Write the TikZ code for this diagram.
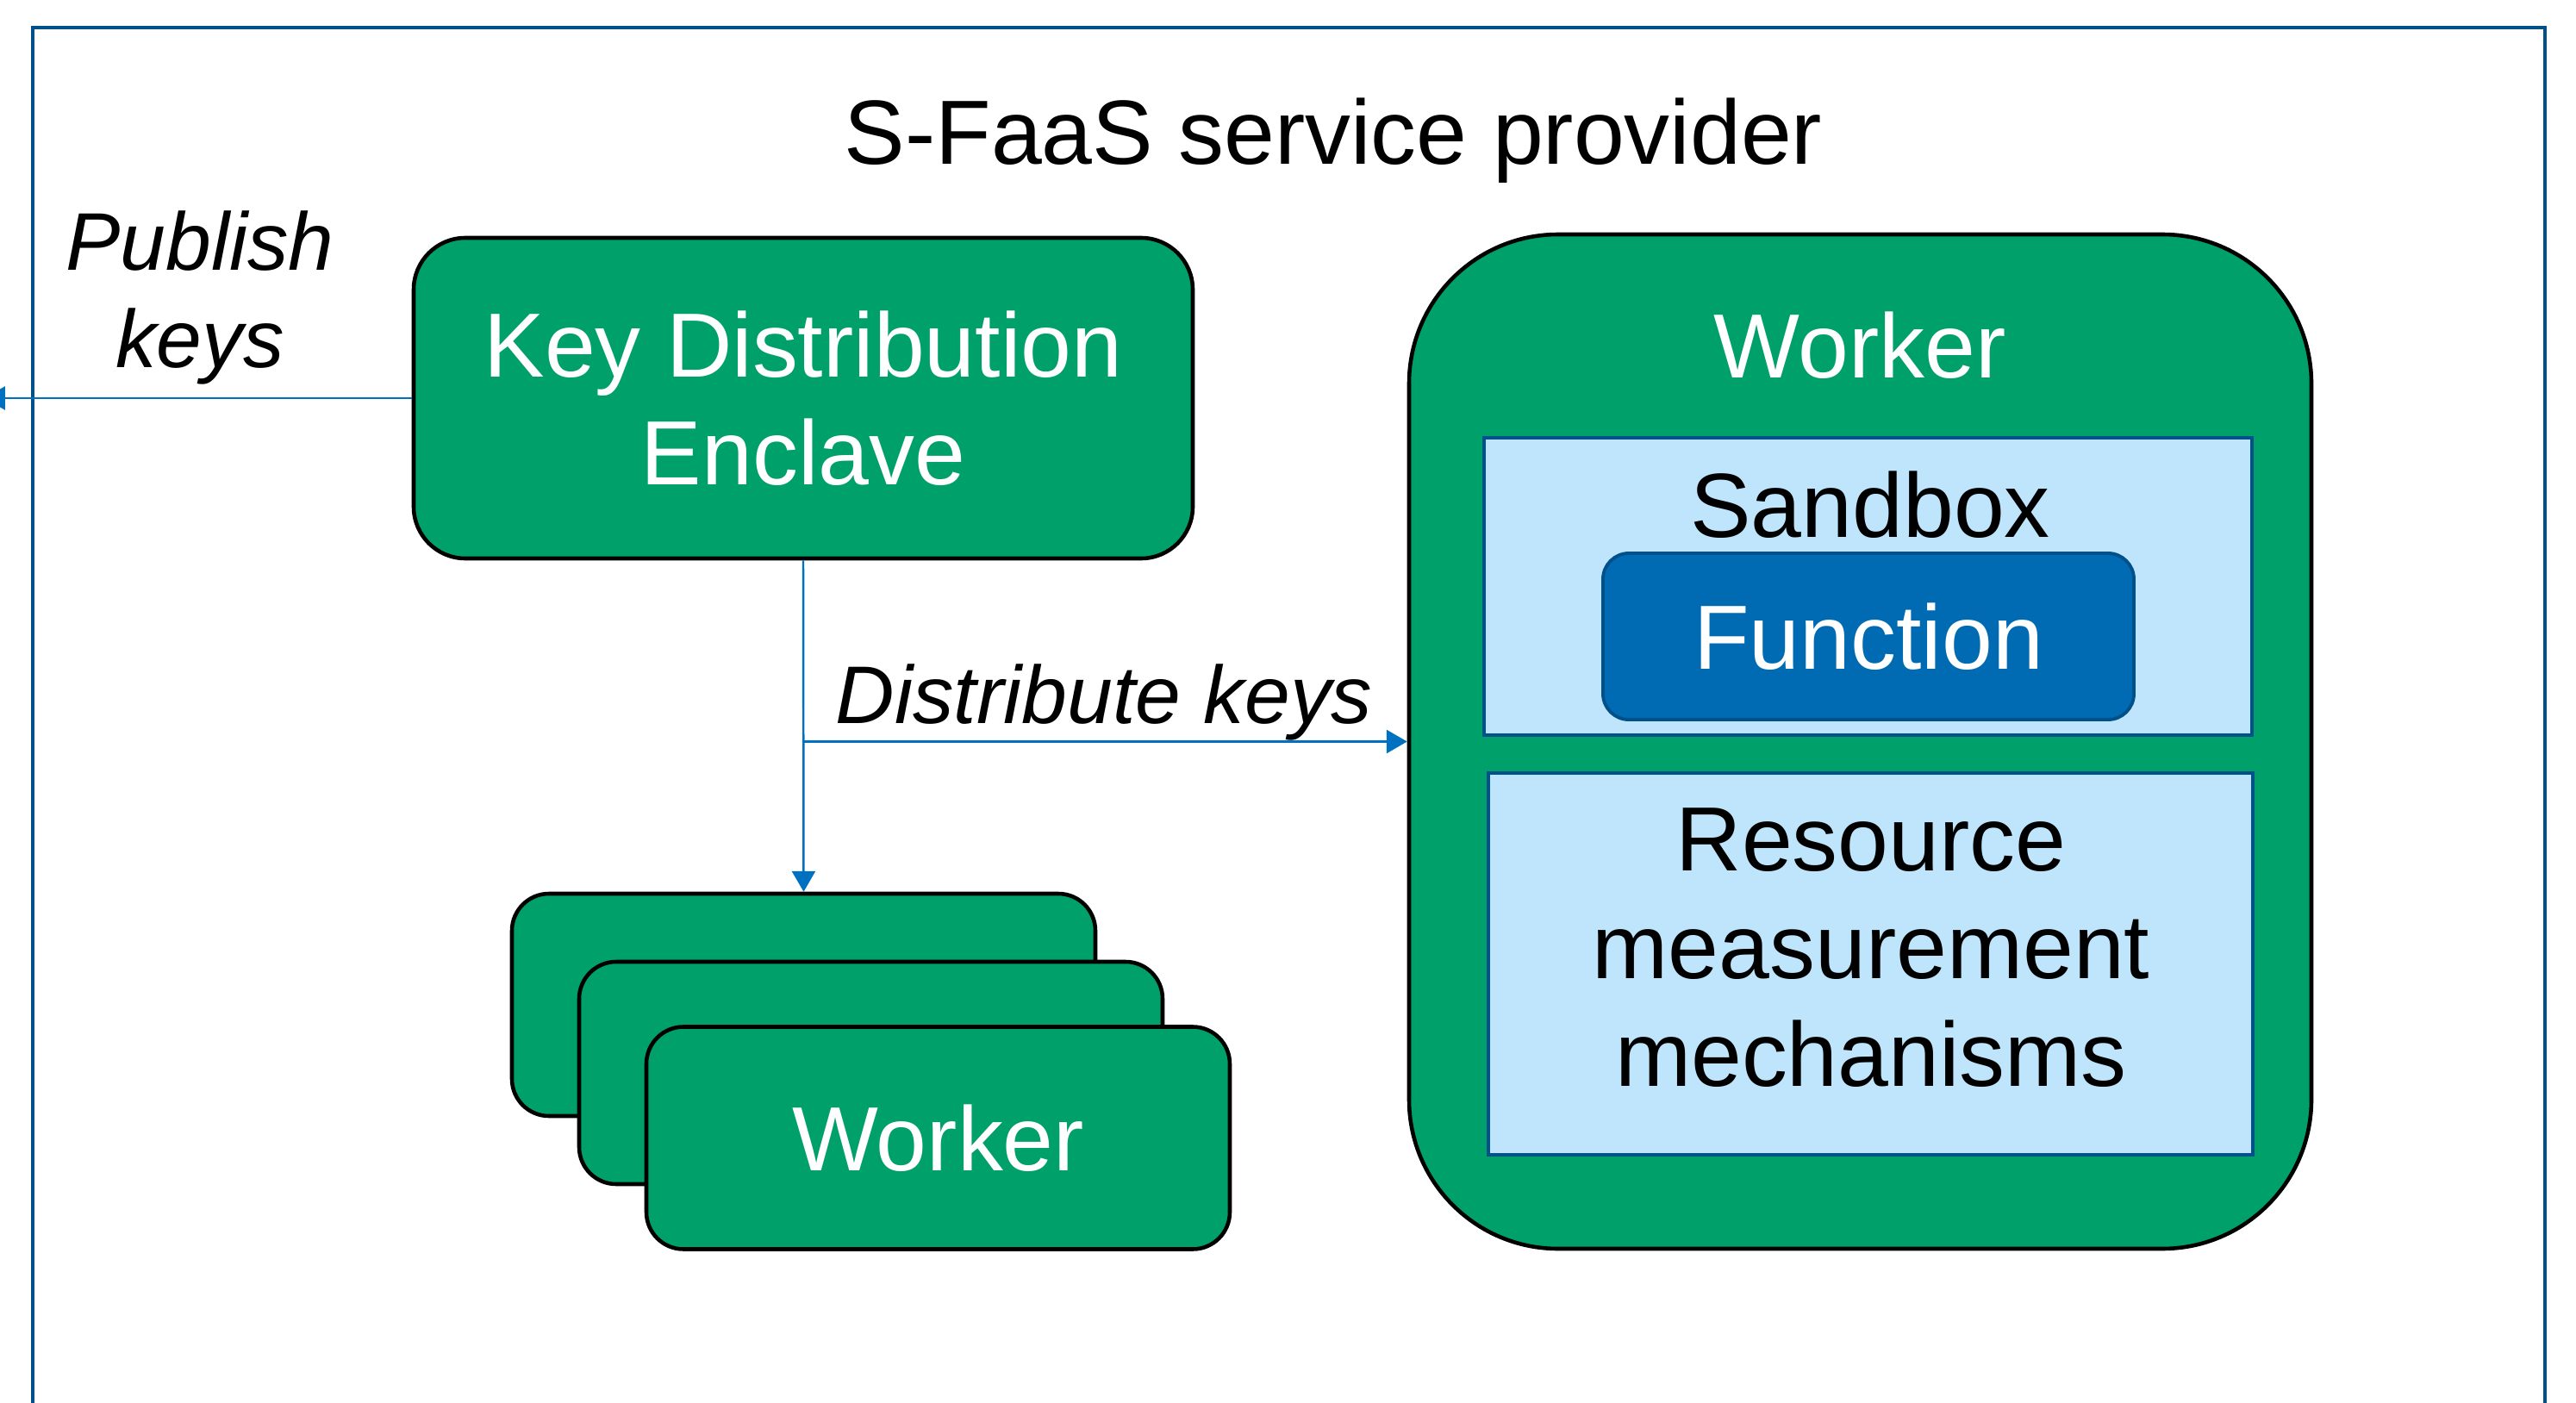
\documentclass[tikz,border=0pt]{standalone}
\usepackage{fontspec}
\setmainfont{Liberation Sans}
\usetikzlibrary{arrows.meta,positioning}

\definecolor{enclavegreen}{RGB}{0,160,106}
\definecolor{sandboxblue}{RGB}{190,229,252}
\definecolor{functionblue}{RGB}{0,107,179}
\definecolor{borderblue}{RGB}{0,80,138}
\definecolor{arrowblue}{RGB}{0,112,192}

\begin{document}
\begin{tikzpicture}[bigfont/.style={font=\fontsize{30.1pt}{35.6pt}\selectfont},
					labelfont/.style={font=\fontsize{27pt}{32pt}\selectfont\itshape},
					greenbox/.style={draw=black,line width=1.3pt,fill=enclavegreen,text=white,bigfont,align=center,inner sep=0pt},
					innerbox/.style={draw=borderblue,line width=1.1pt,fill=sandboxblue,inner sep=0pt},
					keyarrow/.style={draw=arrowblue,line width=0.7pt,-{Triangle[length=6.8pt,width=7.7pt]}}]
	\useasboundingbox (0,0) rectangle (29.89,-16.28);
	% provider frame, open at the bottom
	\draw[borderblue,line width=1.2pt] (0.38,-17) |- (29.53,-0.32) -- (29.53,-17);
	\node[bigfont,anchor=base] (title) at (15.47,-1.91) {S-FaaS service provider};
	% key distribution
	\node[greenbox,rounded corners=0.6cm,minimum width=9.04cm,minimum height=3.72cm] (kde) at (9.32,-4.62) {Key Distribution\\Enclave};
	% stack of workers
	\node[greenbox,rounded corners=0.43cm,minimum width=6.77cm,minimum height=2.58cm] (stack1) at (9.325,-11.66) {};
	\node[greenbox,rounded corners=0.43cm,minimum width=6.77cm,minimum height=2.58cm] (stack2) at (10.105,-12.45) {};
	\node[greenbox,rounded corners=0.43cm,minimum width=6.77cm,minimum height=2.58cm] (stack3) at (10.885,-13.205) {Worker};
	% one worker in detail
	\node[greenbox,rounded corners=1.73cm,minimum width=10.47cm,minimum height=11.77cm] (worker) at (21.585,-8.605) {};
	\node[bigfont,text=white,anchor=base] (workertitle) at (21.58,-4.38) {Worker};
	\node[innerbox,minimum width=8.91cm,minimum height=3.45cm] (sandbox) at (21.675,-6.805) {};
	\node[bigfont,anchor=base] (sandboxtitle) at (21.70,-6.23) {Sandbox};
	\node[draw=borderblue,line width=1.1pt,fill=functionblue,rounded corners=0.3cm,text=white,bigfont,
		minimum width=6.16cm,minimum height=1.93cm,inner sep=0pt] (function) at (21.68,-7.385) {Function};
	\node[innerbox,minimum width=8.87cm,minimum height=4.43cm] (resource) at (21.705,-11.185) {};
	\node[bigfont,align=center] (resourcetext) at (21.71,-10.995) {Resource\\measurement\\mechanisms};
	% key flows
	\coordinate (outside) at (-0.18,-4.62);
	\draw[keyarrow] (kde.west) -- (outside);
	\draw[keyarrow] (kde.south) -- (stack1.north);
	\draw[keyarrow] (kde.south |- worker.west) -- (worker.west);
	\node[labelfont,align=center] (publish) at (2.32,-3.455) {Publish\\keys};
	\node[labelfont,anchor=base] (distribute) at (12.81,-8.39) {Distribute keys};
\end{tikzpicture}
\end{document}
